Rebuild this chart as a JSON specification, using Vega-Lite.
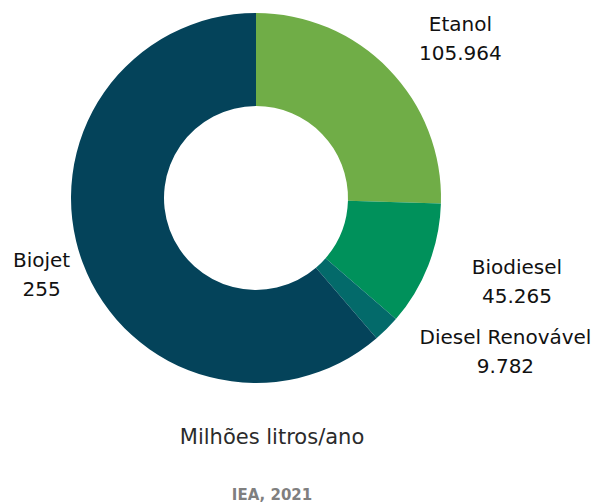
{
  "$schema": "https://vega.github.io/schema/vega-lite/v6.json",
  "width": 512,
  "height": 396,
  "autosize": {"type": "none"},
  "padding": {"left": 0, "top": 0, "right": 83, "bottom": 108},
  "background": "white",
  "config": {"view": {"stroke": null}},
  "data": {
    "values": [
      {"tipo": "Etanol", "ordem": 1, "valor": 105964, "rotulo": "Etanol\n105.964"},
      {"tipo": "Biodiesel", "ordem": 2, "valor": 45265, "rotulo": "Biodiesel\n45.265"},
      {"tipo": "Diesel Renovável", "ordem": 3, "valor": 9782, "rotulo": "Diesel Renovável\n9.782"},
      {"tipo": "Biojet", "ordem": 4, "valor": 255000, "rotulo": "Biojet\n255"}
    ]
  },
  "title": {
    "text": "Milhões litros/ano",
    "subtitle": "IEA, 2021",
    "orient": "bottom",
    "anchor": "middle",
    "dx": 16,
    "offset": 31,
    "font": "DejaVu Sans",
    "fontSize": 21,
    "fontWeight": "normal",
    "color": "#2b2b2b",
    "subtitleFont": "DejaVu Sans",
    "subtitleFontSize": 15,
    "subtitleFontWeight": "bold",
    "subtitleColor": "#7f7f7f",
    "subtitlePadding": 40
  },
  "layer": [
    {
      "mark": {"type": "arc", "innerRadius": 92, "outerRadius": 185},
      "encoding": {
        "theta": {"field": "valor", "type": "quantitative", "stack": true},
        "order": {"field": "ordem", "type": "quantitative"},
        "color": {
          "field": "tipo",
          "type": "nominal",
          "scale": {
            "domain": ["Etanol", "Biodiesel", "Diesel Renovável", "Biojet"],
            "range": ["#70ad47", "#00915b", "#036a6a", "#04435a"]
          },
          "legend": null
        }
      }
    },
    {
      "mark": {
        "type": "text",
        "radius": 250,
        "lineBreak": "\n",
        "lineHeight": 29,
        "font": "DejaVu Sans",
        "fontSize": 20,
        "fill": "#111111",
        "align": "center",
        "baseline": "middle",
        "dx": {"expr": "datum.tipo === 'Etanol' ? 25 : datum.tipo === 'Biodiesel' ? 28 : datum.tipo === 'Diesel Renovável' ? 73 : 20"},
        "dy": {"expr": "datum.tipo === 'Etanol' ? 1 : datum.tipo === 'Biodiesel' ? -21 : datum.tipo === 'Diesel Renovável' ? -37 : -24"}
      },
      "encoding": {
        "theta": {"field": "valor", "type": "quantitative", "stack": true},
        "order": {"field": "ordem", "type": "quantitative"},
        "text": {"field": "rotulo", "type": "nominal"}
      }
    }
  ]
}
